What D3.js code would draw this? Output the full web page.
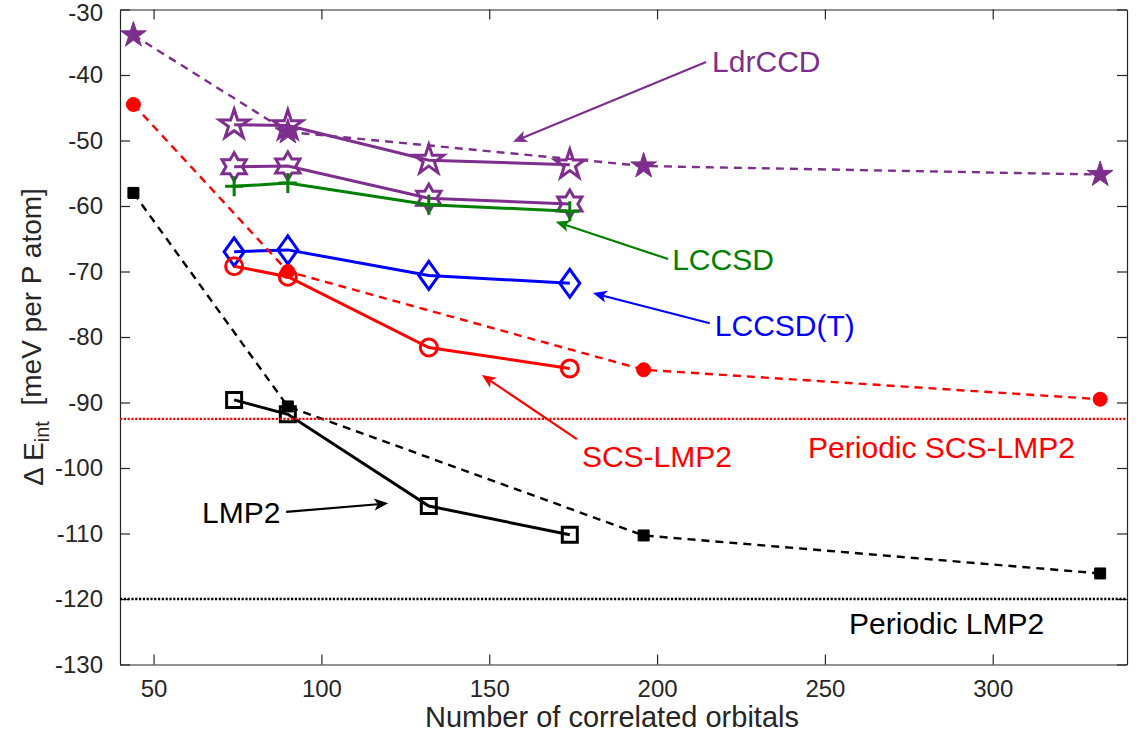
<!DOCTYPE html>
<html>
<head>
<meta charset="utf-8">
<script src="https://cdn.jsdelivr.net/npm/d3@7"></script>
<style>
  body { margin: 0; background: #fff; }
  text { font-family: "Liberation Sans", Arial, Helvetica, sans-serif; }
</style>
</head>
<body>
<div id="chartContainer"></div>
<script>
// cluster results (solid lines, open markers)
var clusterN = [74, 90, 132, 174];
var ldrccd = [-47.6, -47.7, -53.0, -53.7];
var ldrccdB = [-54.0, -53.9, -58.8, -59.7];
var lccsd = [-57.0, -56.5, -59.8, -60.8];
var lccsdT = [-67.0, -66.7, -70.6, -71.8];
var scsLmp2 = [-69.2, -70.8, -81.6, -84.8];
var lmp2 = [-89.6, -91.8, -105.8, -110.2];

// larger clusters (dashed lines, filled markers)
var extN = [44, 90, 196, 332];
var ldrccdExt = [-33.9, -48.7, -53.9, -55.2];
var scsLmp2Ext = [-44.5, -70.0, -85.0, -89.5];
var lmp2Ext = [-58.0, -90.6, -110.3, -116.1];

// periodic reference values
var periodicScs = -92.5;
var periodicLmp2 = -120;

var xTicks = [50, 100, 150, 200, 250, 300];
var yTicks = [-130, -120, -110, -100, -90, -80, -70, -60, -50, -40, -30];

var purple = "#7E2F8E", green = "#008000", blue = "#0000FF", red = "#FF0000", black = "#000000";

function drawChart() {
  var W = 1137, H = 740;
  var left = 120, right = 1127, top = 9.5, bottom = 664.5;

  var svg = d3.select("#chartContainer").append("svg")
    .attr("width", W).attr("height", H);
  svg.append("rect").attr("width", W).attr("height", H).attr("fill", "#fff");

  var x = d3.scaleLinear().domain([40, 340]).range([left, right]);
  var y = d3.scaleLinear().domain([-130, -30]).range([bottom, top]);

  // axes, ticks pointing inward like matlab
  var axCol = "#262626";
  var gx = svg.append("g").attr("transform", "translate(0," + bottom + ")")
    .call(d3.axisBottom(x).tickValues(xTicks).tickSizeInner(-10).tickSizeOuter(0).tickPadding(15));
  var gxt = svg.append("g").attr("transform", "translate(0," + top + ")")
    .call(d3.axisTop(x).tickValues(xTicks).tickSizeInner(-10).tickSizeOuter(0).tickFormat(""));
  var gy = svg.append("g").attr("transform", "translate(" + left + ",0)")
    .call(d3.axisLeft(y).tickValues(yTicks).tickSizeInner(-10).tickSizeOuter(0).tickPadding(17));
  var gyr = svg.append("g").attr("transform", "translate(" + right + ",0)")
    .call(d3.axisRight(y).tickValues(yTicks).tickSizeInner(-10).tickSizeOuter(0).tickFormat(""));
  [gx, gxt, gy, gyr].forEach(function(g) {
    g.selectAll("path, line").attr("stroke", axCol).attr("stroke-width", 1.2);
    g.selectAll("text").attr("fill", axCol).style("font-size", "24px")
      .style("font-family", "'Liberation Sans', Arial, sans-serif");
  });
  gy.selectAll("text").text(function(d) { return d3.format("d")(d).replace("−", "-"); });
  // keep the top label inside the picture
  gy.selectAll("text").filter(function(d) { return d === -30; }).attr("dy", "0.45em");

  var plot = svg.append("g");

  var line = d3.line()
    .x(function(d) { return x(d[0]); })
    .y(function(d) { return y(d[1]); });

  function pts(xs, ys) { return xs.map(function(v, i) { return [v, ys[i]]; }); }

  function star(n, R, r) {
    var p = [];
    for (var i = 0; i < 2 * n; i++) {
      var a = -Math.PI / 2 + i * Math.PI / n;
      var rad = i % 2 === 0 ? R : r;
      p.push([rad * Math.cos(a), rad * Math.sin(a)]);
    }
    return "M" + p.map(function(q) { return q[0].toFixed(2) + "," + q[1].toFixed(2); }).join("L") + "Z";
  }

  var markers = {
    pentOpen: { path: star(5, 15.5, 15.5 * 0.382), fill: "none" },
    hexOpen: { path: star(6, 14, 14 / Math.sqrt(3)), fill: "none" },
    plus: { path: "M-9,0H9M0,-10V10", fill: "none" },
    diamond: { path: "M0,-14L10,0L0,14L-10,0Z", fill: "none" },
    circleOpen: { path: "M8.5,0A8.5,8.5 0 1,1 -8.5,0A8.5,8.5 0 1,1 8.5,0Z", fill: "none" },
    squareOpen: { path: "M-7.5,-7.5H7.5V7.5H-7.5Z", fill: "none" },
    pentFill: { path: star(5, 13.5, 13.5 * 0.382), fill: "solid" },
    circleFill: { path: "M7,0A7,7 0 1,1 -7,0A7,7 0 1,1 7,0Z", fill: "solid" },
    squareFill: { path: "M-5.5,-5.5H5.5V5.5H-5.5Z", fill: "solid" }
  };

  function series(xs, ys, color, dash, width, marker) {
    var data = pts(xs, ys);
    plot.append("path").datum(data)
      .attr("d", line).attr("fill", "none").attr("stroke", color)
      .attr("stroke-width", width)
      .attr("stroke-dasharray", dash ? "8,6" : null);
    var m = markers[marker];
    plot.selectAll(null).data(data).enter().append("path")
      .attr("d", m.path)
      .attr("transform", function(d) { return "translate(" + x(d[0]) + "," + y(d[1]) + ")"; })
      .attr("fill", m.fill === "solid" ? color : "none")
      .attr("stroke", color)
      .attr("stroke-width", m.fill === "solid" ? 1 : 3)
      .attr("stroke-linejoin", "miter");
  }

  series(clusterN, ldrccd, purple, false, 3, "pentOpen");
  series(clusterN, ldrccdB, purple, false, 3, "hexOpen");
  series(clusterN, lccsd, green, false, 3, "plus");
  series(clusterN, lccsdT, blue, false, 3, "diamond");
  series(clusterN, scsLmp2, red, false, 3, "circleOpen");
  series(clusterN, lmp2, black, false, 3, "squareOpen");

  series(extN, ldrccdExt, purple, true, 2.4, "pentFill");
  series(extN, scsLmp2Ext, red, true, 2.4, "circleFill");
  series(extN, lmp2Ext, black, true, 2.4, "squareFill");

  // periodic reference lines
  [[periodicScs, red], [periodicLmp2, black]].forEach(function(r) {
    plot.append("line")
      .attr("x1", x(40)).attr("x2", x(340))
      .attr("y1", y(r[0])).attr("y2", y(r[0]))
      .attr("stroke", r[1]).attr("stroke-width", 2.4)
      .attr("stroke-dasharray", "2.2,1.6");
  });

  // arrow annotations (data units)
  var notes = [
    { text: "LdrCCD", color: purple, at: [216.4, -39.5], anchor: "start", tail: [214.6, -38.0], head: [157.1, -50.2] },
    { text: "LCCSD", color: green, at: [204.5, -69.8], anchor: "start", tail: [203.3, -68.1], head: [169.8, -62.4] },
    { text: "LCCSD(T)", color: blue, at: [217.2, -79.85], anchor: "start", tail: [215.7, -77.9], head: [180.9, -73.3] },
    { text: "SCS-LMP2", color: red, at: [177.6, -99.85], anchor: "start", tail: [176.1, -95.6], head: [147.8, -85.8] },
    { text: "LMP2", color: black, at: [87.8, -108.4], anchor: "end", tail: [89.5, -106.7], head: [119.9, -105.4] },
    { text: "Periodic SCS-LMP2", color: red, at: [245.0, -98.5], anchor: "start" },
    { text: "Periodic LMP2", color: black, at: [257.2, -125.35], anchor: "start" }
  ];

  var ann = svg.append("g");
  notes.forEach(function(n) {
    ann.append("text")
      .attr("x", x(n.at[0])).attr("y", y(n.at[1]))
      .attr("text-anchor", n.anchor)
      .attr("fill", n.color)
      .style("font-size", "30px")
      .text(n.text);
    if (!n.tail) return;
    var x0 = x(n.tail[0]), y0 = y(n.tail[1]), x1 = x(n.head[0]), y1 = y(n.head[1]);
    var ang = Math.atan2(y1 - y0, x1 - x0);
    var L = 14, Wd = 6;
    var ex = x1 - 0.75 * L * Math.cos(ang), ey = y1 - 0.75 * L * Math.sin(ang);
    ann.append("line")
      .attr("x1", x0).attr("y1", y0).attr("x2", ex).attr("y2", ey)
      .attr("stroke", n.color).attr("stroke-width", 2.2);
    var bx = x1 - L * Math.cos(ang), by = y1 - L * Math.sin(ang);
    var px = -Math.sin(ang) * Wd, py = Math.cos(ang) * Wd;
    ann.append("path")
      .attr("d", "M" + x1 + "," + y1 + "L" + (bx + px) + "," + (by + py) + "L" + ex + "," + ey +
        "L" + (bx - px) + "," + (by - py) + "Z")
      .attr("fill", n.color);
  });

  // axis labels
  svg.append("text")
    .attr("x", 612).attr("y", 727)
    .attr("text-anchor", "middle").attr("fill", axCol)
    .style("font-size", "29px")
    .text("Number of correlated orbitals");

  var yl = svg.append("text")
    .attr("transform", "translate(43," + (top + bottom) / 2 + ") rotate(-90)")
    .attr("text-anchor", "middle").attr("fill", axCol)
    .style("font-size", "28px");
  yl.append("tspan").text("\u0394 E");
  yl.append("tspan").attr("dy", "0.3em").style("font-size", "20px").text("int");
  yl.append("tspan").attr("dy", "-0.3em").text("\u00a0\u00a0[meV per P atom]");
}

drawChart();
</script>
</body>
</html>
